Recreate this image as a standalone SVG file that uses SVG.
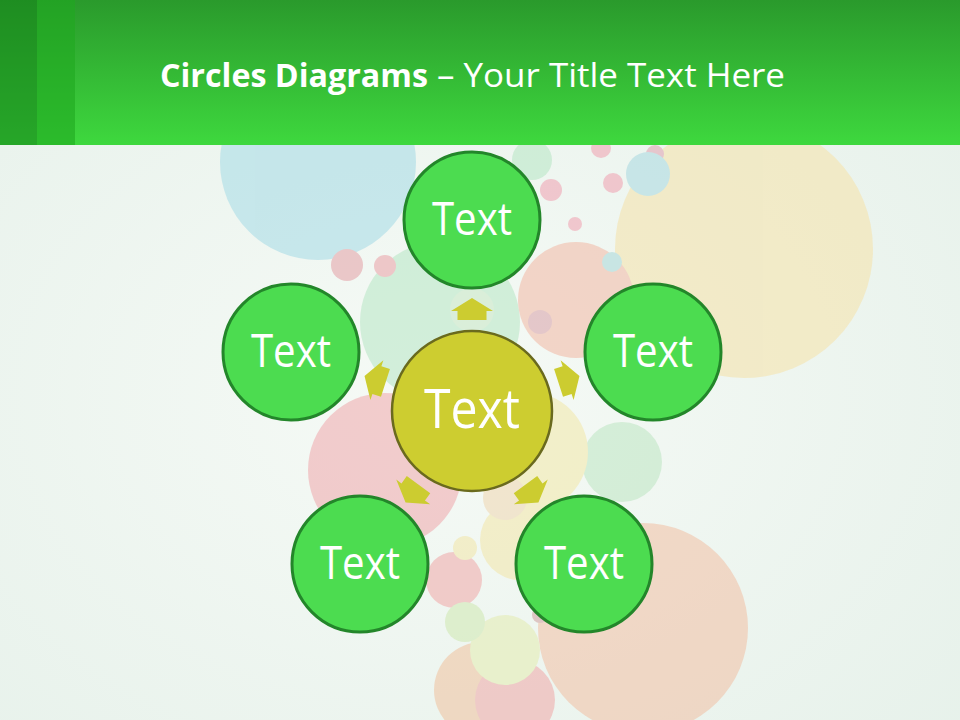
<svg xmlns="http://www.w3.org/2000/svg" width="960" height="720" viewBox="0 0 960 720">
<defs>
<radialGradient id="bg" cx="0.45" cy="0.55" r="0.75">
<stop offset="0" stop-color="#f6faf6"/>
<stop offset="1" stop-color="#e6f1ea"/>
</radialGradient>
<linearGradient id="hdr" x1="0" y1="0" x2="0" y2="1">
<stop offset="0" stop-color="#2a9a2c"/>
<stop offset="1" stop-color="#3ed83e"/>
</linearGradient>
<path id="arrow" d="M0,-13 L21,0 L14.5,0 L14.5,9 L-14.5,9 L-14.5,0 L-21,0 Z"/>
</defs>
<style>
.node{fill:#4cdc50;stroke:#23862a;stroke-width:3}
.hub{fill:#cdcd30;stroke:#6a6a1e;stroke-width:2.5}
.lbl{font-family:"Open Sans","Liberation Sans",sans-serif;fill:#ffffff;text-anchor:middle}
.arr{fill:#cccc30}
.b{stroke:none}
</style>
<rect width="960" height="720" fill="url(#bg)"/>
<g id="bubbles" opacity="0.55">
<circle class="b" cx="318" cy="162" r="98" fill="#a4dae6"/>
<circle class="b" cx="744" cy="249" r="129" fill="#f5e2a8"/>
<circle class="b" cx="643" cy="628" r="105" fill="#f2c0a4"/>
<circle class="b" cx="385" cy="470" r="77" fill="#f0a8ac"/>
<circle class="b" cx="440" cy="322" r="80" fill="#b6e6c4"/>
<circle class="b" cx="576" cy="300" r="58" fill="#f2b8a4"/>
<circle class="b" cx="622" cy="462" r="40" fill="#bde6c2"/>
<circle class="b" cx="528" cy="452" r="60" fill="#f2e8a8"/>
<circle class="b" cx="520" cy="540" r="40" fill="#f2e6a8"/>
<circle class="b" cx="454" cy="580" r="28" fill="#f0a8a8"/>
<circle class="b" cx="482" cy="690" r="48" fill="#f0c29e"/>
<circle class="b" cx="515" cy="700" r="40" fill="#f0a8a8"/>
<circle class="b" cx="505" cy="650" r="35" fill="#e4ecb0"/>
<circle class="b" cx="465" cy="622" r="20" fill="#cfe8b0"/>
<circle class="b" cx="347" cy="265" r="16" fill="#e4a0a6"/>
<circle class="b" cx="385" cy="266" r="11" fill="#eaa0a6"/>
<circle class="b" cx="551" cy="190" r="11" fill="#f0a0b0"/>
<circle class="b" cx="575" cy="224" r="7" fill="#f0a0b0"/>
<circle class="b" cx="613" cy="183" r="10" fill="#f0a0b0"/>
<circle class="b" cx="601" cy="148" r="10" fill="#f0a0b0"/>
<circle class="b" cx="655" cy="154" r="9" fill="#e0a0b0"/>
<circle class="b" cx="648" cy="174" r="22" fill="#a8d8e0"/>
<circle class="b" cx="532" cy="160" r="20" fill="#b6e6c4"/>
<circle class="b" cx="612" cy="262" r="10" fill="#a8d8d8"/>
<circle class="b" cx="540" cy="322" r="12" fill="#d8a0a8"/>
<circle class="b" cx="472" cy="310" r="22" fill="#c6e6c4"/>
<circle class="b" cx="505" cy="498" r="22" fill="#f0d6b0"/>
<circle class="b" cx="465" cy="548" r="12" fill="#f2e6a8"/>
<circle class="b" cx="540" cy="615" r="8" fill="#d0a0a0"/>
</g>
<rect x="0" y="0" width="960" height="145" fill="url(#hdr)"/>
<rect x="0" y="0" width="37" height="145" fill="#18861a" opacity="0.6"/>
<rect x="37" y="0" width="38" height="145" fill="#1fa820" opacity="0.6"/>
<text x="160" y="87" font-family="'Open Sans','Liberation Sans',sans-serif" font-size="33" fill="#ffffff"><tspan font-weight="bold" textLength="268" lengthAdjust="spacingAndGlyphs">Circles Diagrams</tspan><tspan x="437" textLength="348" lengthAdjust="spacingAndGlyphs">– Your Title Text Here</tspan></text>
<g id="connectors">
<use href="#arrow" class="arr" transform="translate(472,411) rotate(0) translate(0,-100)"/>
<use href="#arrow" class="arr" transform="translate(472,411) rotate(72) translate(0,-100)"/>
<use href="#arrow" class="arr" transform="translate(472,411) rotate(144) translate(0,-100)"/>
<use href="#arrow" class="arr" transform="translate(472,411) rotate(-144) translate(0,-100)"/>
<use href="#arrow" class="arr" transform="translate(472,411) rotate(-72) translate(0,-100)"/>
</g>
<g id="node-center"><circle class="hub" cx="472" cy="411" r="80"/><text class="lbl" x="472" y="428" font-size="55" textLength="96" lengthAdjust="spacingAndGlyphs">Text</text></g>
<g id="node-top"><circle class="node" cx="472" cy="220" r="68"/><text class="lbl" x="472" y="235" font-size="45" textLength="80" lengthAdjust="spacingAndGlyphs">Text</text></g>
<g id="node-left"><circle class="node" cx="291" cy="352" r="68"/><text class="lbl" x="291" y="367" font-size="45" textLength="80" lengthAdjust="spacingAndGlyphs">Text</text></g>
<g id="node-right"><circle class="node" cx="653" cy="352" r="68"/><text class="lbl" x="653" y="367" font-size="45" textLength="80" lengthAdjust="spacingAndGlyphs">Text</text></g>
<g id="node-bottom-left"><circle class="node" cx="360" cy="564" r="68"/><text class="lbl" x="360" y="579" font-size="45" textLength="80" lengthAdjust="spacingAndGlyphs">Text</text></g>
<g id="node-bottom-right"><circle class="node" cx="584" cy="564" r="68"/><text class="lbl" x="584" y="579" font-size="45" textLength="80" lengthAdjust="spacingAndGlyphs">Text</text></g>
</svg>
